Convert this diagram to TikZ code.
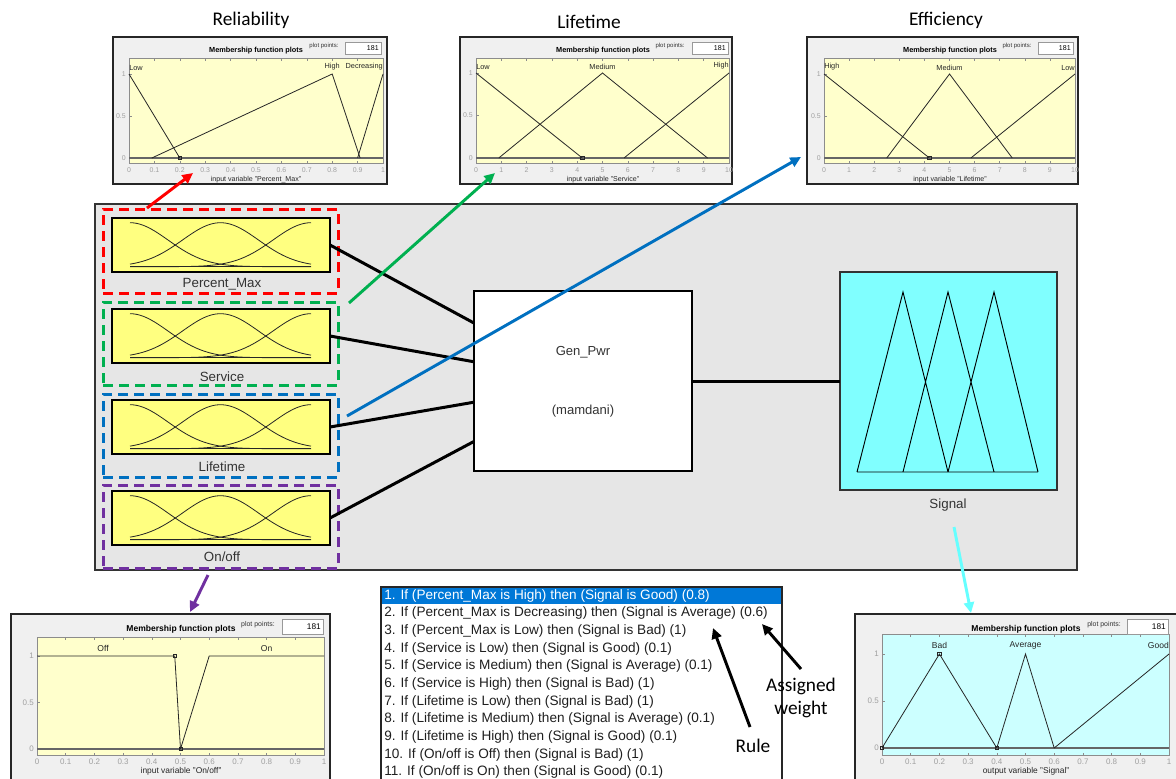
\documentclass[tikz,border=0pt]{standalone}
\usepackage{fontspec}
\setmainfont{Liberation Sans}
\newfontfamily\calfont{Carlito}
\usetikzlibrary{arrows.meta,fit}
\definecolor{bggray}{HTML}{E6E6E6}
\definecolor{pgray}{HTML}{F0F0F0}
\definecolor{ylw}{HTML}{FFFF80}
\definecolor{pyel}{HTML}{FFFFCC}
\definecolor{cyanbox}{HTML}{80FFFF}
\definecolor{pcyan}{HTML}{CCFFFF}
\definecolor{ored}{HTML}{FF0000}
\definecolor{ogreen}{HTML}{00B050}
\definecolor{oblue}{HTML}{0070C0}
\definecolor{opurple}{HTML}{7030A0}
\definecolor{ocyan}{HTML}{66FFFF}
\definecolor{hlblue}{HTML}{0078D7}
\definecolor{tickgray}{HTML}{A0A0A0}
\definecolor{darktext}{HTML}{333333}
\tikzset{
 ybox/.style={draw=black, line width=1.1pt, fill=ylw, inner sep=0pt, outer sep=0pt},
 dbox/.style={draw, line width=2.25pt, dash pattern=on 7.5pt off 4.5pt, inner sep=0pt, outer sep=0pt},
 gline/.style={draw=black!85, line width=0.6pt},
 conn/.style={line width=2.25pt, draw=black},
 carrow/.style={line width=2.2pt, -{Triangle[length=8pt,width=7.5pt]}},
 blabel/.style={font=\fontsize{10}{12}\selectfont, text=darktext, inner sep=0pt},
 ttl/.style={font=\calfont\fontsize{14.5}{16}\selectfont, inner sep=0pt},
 pframe/.style={draw=black!85, line width=1pt, fill=pgray, inner sep=0pt, outer sep=0pt},
 pbox/.style={draw=black!40, line width=0.4pt, fill=white, inner sep=0pt},
 axframe/.style={draw=black!45, line width=0.4pt},
 zline/.style={draw=black!60, line width=0.8pt},
 mline/.style={draw=black!85, line width=0.6pt},
 sq/.style={draw=black!85, fill=none, line width=0.4pt, minimum size=2.6pt, inner sep=0pt},
 ptitle/.style={font=\bfseries\fontsize{5.5}{6}\selectfont, inner sep=0pt},
 ppts/.style={font=\fontsize{4.5}{5}\selectfont, inner sep=0pt, text=black!80},
 pnum/.style={font=\fontsize{5.3}{6}\selectfont, inner sep=0pt},
 tlab/.style={font=\fontsize{5.2}{6}\selectfont, inner sep=0pt, text=tickgray},
 xlab/.style={font=\fontsize{5.3}{6}\selectfont, inner sep=0pt, text=black!85},
 mlab/.style={font=\fontsize{5.5}{6}\selectfont, inner sep=0pt, text=black!85},
 rtxt/.style={font=\fontsize{10.2}{12}\selectfont, anchor=west, inner sep=0pt, text=black!88},
 big/.style={
  ptitle/.style={font=\bfseries\fontsize{6.4}{7}\selectfont, inner sep=0pt},
  ppts/.style={font=\fontsize{5.2}{6}\selectfont, inner sep=0pt, text=black!80},
  pnum/.style={font=\fontsize{6.2}{7}\selectfont, inner sep=0pt},
  tlab/.style={font=\fontsize{6}{7}\selectfont, inner sep=0pt, text=tickgray},
  xlab/.style={font=\fontsize{6.3}{7}\selectfont, inner sep=0pt, text=black!85},
  mlab/.style={font=\fontsize{6.4}{7}\selectfont, inner sep=0pt, text=black!85}}
}
% #1 L, #2 R, #3 T, #4 B, #5 y1, #6 y0, #7 fill, #8 xmax, #9 tick label y
\newcommand\mfaxes[9]{%
 \fill[#7] (#1,#3) rectangle (#2,#4);
 \draw[axframe] (#1,#3) rectangle (#2,#4);
 \foreach \i in {0,...,10}{%
   \pgfmathsetmacro\tx{#1+\i*(#2-#1)/10}%
   \draw[axframe] (\tx,#4) -- (\tx,#4-2.5) (\tx,#3) -- (\tx,#3+2.5);
   \node[tlab] at (\tx,#9) {\ifnum#8=1 \ifnum\i=0 0\else\ifnum\i=10 1\else 0.\i\fi\fi\else\i\fi};
 }
 \draw[axframe] (#1,#5) -- (#1+2.5,#5) (#1,{(#5+#6)/2}) -- (#1+2.5,{(#5+#6)/2}) (#1,#6) -- (#1+2.5,#6);
 \node[tlab,anchor=east] at (#1-3,#6) {0};
 \node[tlab,anchor=east] at (#1-3,{(#5+#6)/2}) {0.5};
 \node[tlab,anchor=east] at (#1-3,#5) {1};
 \draw[zline] (#1,#6) -- (#2,#6);
}
\newcommand\gaussbox[1]{%
 \begin{scope}[shift={(#1.north west)}]
  \draw[gline] plot[domain=0:181, samples=60, smooth] ({18+\x}, {48.7-44*exp(-0.5*(\x/38)^2)});
  \draw[gline] plot[domain=0:181, samples=60, smooth] ({18+\x}, {48.7-44*exp(-0.5*((\x-90.5)/38)^2)});
  \draw[gline] plot[domain=0:181, samples=60, smooth] ({18+\x}, {48.7-44*exp(-0.5*((\x-181)/38)^2)});
  \draw[gline] (18,48.7) -- (199,48.7);
 \end{scope}}
\begin{document}
\begin{tikzpicture}[x=0.75pt,y=-0.75pt]
\clip (0,0) rectangle (1176,778);
\fill[white] (0,0) rectangle (1176,778);

% ---------- titles
\node[ttl] (tRel) at (251,20) {Reliability};
\node[ttl] (tLif) at (589,22) {Lifetime};
\node[ttl] (tEff) at (946,20) {Efficiency};

% ---------- Reliability panel
\node[pframe, fit={(113,37) (387,184)}] (prel) {};
\mfaxes{129}{383}{58}{163}{74}{158}{pyel}{1}{170}
\node[ptitle] at (256,51) {Membership function plots};
\node[ppts] at (324,46) {plot points:};
\node[pbox, fit={(345,42) (381,54)}] (brel) {};
\node[pnum, anchor=east] at (379,48.5) {181};
\node[xlab] at (256,180) {input variable "Percent\_Max"};
\begin{scope}[shift={(129,158)}, xscale=254, yscale=-84]
 \draw[mline] (0,1) -- (0.2,0);
 \draw[mline] (0.09,0) -- (0.8,1) -- (0.91,0);
 \draw[mline] (0.9,0) -- (1,1);
 \node[sq] at (0.2,0) {};
 \node[mlab, anchor=south west] at (0,1.04) {Low};
 \node[mlab, anchor=south] at (0.8,1.04) {High};
 \node[mlab, anchor=south east] at (1,1.04) {Decreasing};
\end{scope}

% ---------- Lifetime panel (Service)
\node[pframe, fit={(460,37) (732,184)}] (plif) {};
\mfaxes{476}{729}{58}{163}{73}{158}{pyel}{10}{170}
\node[ptitle] at (603,51) {Membership function plots};
\node[ppts] at (670,46) {plot points:};
\node[pbox, fit={(692,42) (728,54)}] (blif) {};
\node[pnum, anchor=east] at (726,48.5) {181};
\node[xlab] at (603,180) {input variable "Service"};
\begin{scope}[shift={(476,158)}, xscale=25.3, yscale=-85]
 \draw[mline] (0,1) -- (4.2,0);
 \draw[mline] (0.9,0) -- (5,1) -- (9.15,0);
 \draw[mline] (5.85,0) -- (10,1);
 \node[sq] at (4.2,0) {};
 \node[mlab, anchor=south west] at (0,1.04) {Low};
 \node[mlab, anchor=south] at (5,1.04) {Medium};
 \node[mlab, anchor=south east] at (10,1.04) {High};
\end{scope}

% ---------- Efficiency panel (Lifetime)
\node[pframe, fit={(807,37) (1078,184)}] (peff) {};
\mfaxes{824}{1075}{58}{163}{74}{158}{pyel}{10}{170}
\node[ptitle] at (950,51) {Membership function plots};
\node[ppts] at (1017,46) {plot points:};
\node[pbox, fit={(1038,42) (1073,54)}] (beff) {};
\node[pnum, anchor=east] at (1071,48.5) {181};
\node[xlab] at (950,180) {input variable "Lifetime"};
\begin{scope}[shift={(824,158)}, xscale=25.1, yscale=-84]
 \draw[mline] (0,1) -- (4.2,0);
 \draw[mline] (2.5,0) -- (5,1) -- (7.5,0);
 \draw[mline] (5.85,0) -- (10,1);
 \node[sq] at (4.2,0) {};
 \node[mlab, anchor=south west] at (0,1.04) {High};
 \node[mlab, anchor=south] at (5,1.04) {Medium};
 \node[mlab, anchor=south east] at (10,1.04) {Low};
\end{scope}

% ---------- main FIS block
\node[fill=bggray, draw=black!80, line width=0.8pt, inner sep=0pt, outer sep=0pt, fit={(95,204) (1077,570)}] (main) {};
\node[dbox, draw=ored, fit={(103,209) (338,293)}] (dr) {};
\node[dbox, draw=ogreen, fit={(103,302) (338,385)}] (dg) {};
\node[dbox, draw=oblue, fit={(103,394) (338,477)}] (db) {};
\node[dbox, draw=opurple, fit={(103,485) (338,568)}] (dp) {};

\node[ybox, fit={(112,218) (330,272)}] (pm) {};
\node[ybox, fit={(112,309) (330,363)}] (sv) {};
\node[ybox, fit={(112,400) (330,454)}] (lt) {};
\node[ybox, fit={(112,491) (330,545)}] (oo) {};
\gaussbox{pm}\gaussbox{sv}\gaussbox{lt}\gaussbox{oo}
\node[blabel] at (222,284) {Percent\_Max};
\node[blabel] at (222,377) {Service};
\node[blabel] at (222,467) {Lifetime};
\node[blabel] at (222,557) {On/off};

\node[draw=black, line width=2.2pt, fill=white, inner sep=0pt, outer sep=0pt, fit={(474,291) (692,471)}] (gen) {};
\node[blabel, font=\fontsize{9.8}{12}\selectfont] at (583,352) {Gen\_Pwr};
\node[blabel, font=\fontsize{9.8}{12}\selectfont] at (583,411) {(mamdani)};

\node[draw=black!80, line width=0.8pt, fill=cyanbox, inner sep=0pt, outer sep=0pt, fit={(840,272) (1057,490)}] (sig) {};
\draw[black, line width=0.7pt] (857,472) -- (903,292) -- (948,472)
  (903,472) -- (948,292) -- (994,472)
  (948,472) -- (994,292) -- (1038,472)
  (857,472) -- (1038,472);
\node[blabel] at (948,505) {Signal};

\draw[conn] (pm.east) -- (gen.152);
\draw[conn] (sv.east) -- (gen.170);
\draw[conn] (lt.east) -- (gen.191);
\draw[conn] (oo.east) -- (gen.209);
\draw[conn] (gen.east) -- (sig.west);

% ---------- On/off panel
\begin{scope}[big]
\node[pframe, fit={(11,614) (330,800)}] (poo) {};
\mfaxes{37}{324}{637}{755}{656}{749}{pyel}{1}{762}
\node[ptitle] at (181,629) {Membership function plots};
\node[ppts] at (258,625) {plot points:};
\node[pbox, fit={(282,619) (323,634)}] (boo) {};
\node[pnum, anchor=east] at (321,626.5) {181};
\node[xlab] at (181,771.5) {input variable "On/off"};
\begin{scope}[shift={(37,749)}, xscale=287, yscale=-93]
 \draw[mline] (0,1) -- (0.48,1) -- (0.5,0);
 \draw[mline] (0.5,0) -- (0.6,1) -- (1,1);
 \node[sq] at (0.48,1) {};
 \node[sq] at (0.5,0) {};
 \node[mlab, anchor=south] at (0.23,1.05) {Off};
 \node[mlab, anchor=south] at (0.8,1.05) {On};
\end{scope}

% ---------- Signal panel
\node[pframe, fit={(855,614) (1190,800)}] (psig) {};
\mfaxes{882}{1169}{634}{755}{654}{748}{pcyan}{1}{762}
\node[ptitle] at (1026,629) {Membership function plots};
\node[ppts] at (1104,625) {plot points:};
\node[pbox, fit={(1127,619) (1168,634)}] (bsig) {};
\node[pnum, anchor=east] at (1166,626.5) {181};
\node[xlab] at (1026,771.5) {output variable "Signal"};
\begin{scope}[shift={(882,748)}, xscale=287, yscale=-94]
 \draw[mline] (0,0) -- (0.2,1) -- (0.4,0);
 \draw[mline] (0.4,0) -- (0.5,1) -- (0.6,0);
 \draw[mline] (0.6,0) -- (1,1);
 \node[sq] at (0,0) {};
 \node[sq] at (0.2,1) {};
 \node[sq] at (0.4,0) {};
 \node[mlab, anchor=south] at (0.2,1.05) {Bad};
 \node[mlab, anchor=south] at (0.5,1.05) {Average};
 \node[mlab, anchor=south east] at (1,1.05) {Good};
\end{scope}
\end{scope}

% ---------- rule list
\node[draw=black!85, line width=0.8pt, fill=white, inner sep=0pt, outer sep=0pt, fit={(381,587) (782,800)}] (rules) {};
\fill[hlblue] (382,587.5) rectangle (781,604);
\node[rtxt, text=white] at (384,595.5) {1. If (Percent\_Max is High) then (Signal is Good) (0.8)};
\node[rtxt] at (384,613.2) {2. If (Percent\_Max is Decreasing) then (Signal is Average) (0.6)};
\node[rtxt] at (384,630.9) {3. If (Percent\_Max is Low) then (Signal is Bad) (1)};
\node[rtxt] at (384,648.6) {4. If (Service is Low) then (Signal is Good) (0.1)};
\node[rtxt] at (384,666.3) {5. If (Service is Medium) then (Signal is Average) (0.1)};
\node[rtxt] at (384,684.0) {6. If (Service is High) then (Signal is Bad) (1)};
\node[rtxt] at (384,701.7) {7. If (Lifetime is Low) then (Signal is Bad) (1)};
\node[rtxt] at (384,719.4) {8. If (Lifetime is Medium) then (Signal is Average) (0.1)};
\node[rtxt] at (384,737.1) {9. If (Lifetime is High) then (Signal is Good) (0.1)};
\node[rtxt] at (384,754.8) {10. If (On/off is Off) then (Signal is Bad) (1)};
\node[rtxt] at (384,771.5) {11. If (On/off is On) then (Signal is Good) (0.1)};

% ---------- annotations
\node[ttl, align=center, font=\calfont\fontsize{14.5}{17}\selectfont] (aw) at (801,698) {Assigned\\weight};
\node[ttl] (rl) at (753,746) {Rule};

% ---------- colored arrows
\coordinate (rS) at (147,208);  \coordinate (rT) at (193,173);
\coordinate (gS) at (349,303);  \coordinate (gT) at (495,173);
\coordinate (bS) at (347,416);  \coordinate (bT) at (801,157);
\coordinate (pS) at (208,575);  \coordinate (pT) at (190,612);
\coordinate (cS) at (954,527);  \coordinate (cT) at (971,613);
\coordinate (aS) at (801,669);  \coordinate (aT) at (762,624);
\coordinate (uS) at (750,727);  \coordinate (uT) at (713,628);
\draw[carrow, ored] (rS) -- (rT);
\draw[carrow, ogreen] (gS) -- (gT);
\draw[carrow, oblue] (bS) -- (bT);
\draw[carrow, opurple] (pS) -- (pT);
\draw[carrow, ocyan] (cS) -- (cT);
\draw[carrow, black] (aS) -- (aT);
\draw[carrow, black] (uS) -- (uT);
\end{tikzpicture}
\end{document}
